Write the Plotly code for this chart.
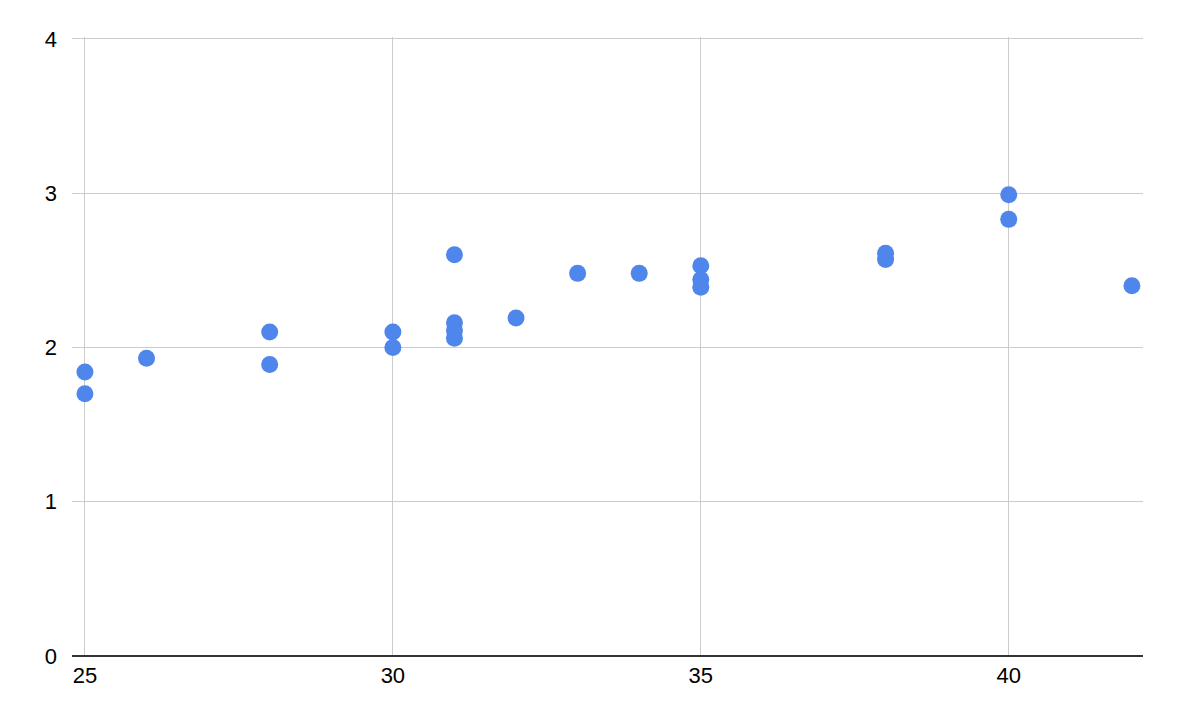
import plotly.graph_objects as go

# data
age = [25, 25, 26, 28, 28, 30, 30, 31, 31, 31, 31, 32, 33, 34,
       35, 35, 35, 38, 38, 40, 40, 42]
value = [1.84, 1.70, 1.93, 2.10, 1.89, 2.10, 2.00, 2.60, 2.16, 2.11, 2.06, 2.19,
         2.48, 2.48, 2.53, 2.44, 2.39, 2.61, 2.57, 2.99, 2.83, 2.40]
x_ticks = [25, 30, 35, 40]
y_ticks = [0, 1, 2, 3, 4]

fig = go.Figure()

fig.add_trace(go.Scatter(x=age,
                         y=value,
                         mode='markers',
                         marker=dict(color='#4F86EC',
                                     size=17,
                                     line=dict(width=0)),
                         showlegend=False))

# the page body adds an 8px offset, so margins are shifted to compensate
fig.update_layout(width=1178,
                  height=722,
                  margin=dict(l=64, r=43, t=29, b=74),
                  plot_bgcolor='white',
                  paper_bgcolor='white',
                  font=dict(family='Liberation Sans, Arial, sans-serif',
                            size=22,
                            color='#000000'))

fig.update_xaxes(range=[24.79, 42.18],
                 tickvals=x_ticks,
                 showgrid=True,
                 gridcolor='#cccccc',
                 gridwidth=1,
                 zeroline=False,
                 showline=False,
                 ticks='',
                 ticklabelstandoff=4)

# a touch of headroom so the gridline at 4 is not clipped
fig.update_yaxes(range=[0, 4.012],
                 tickvals=y_ticks,
                 showgrid=True,
                 gridcolor='#cccccc',
                 gridwidth=1,
                 zeroline=True,
                 zerolinecolor='#333333',
                 zerolinewidth=2,
                 showline=False,
                 ticks='',
                 ticklabelstandoff=14)

fig.write_html("out.html")
